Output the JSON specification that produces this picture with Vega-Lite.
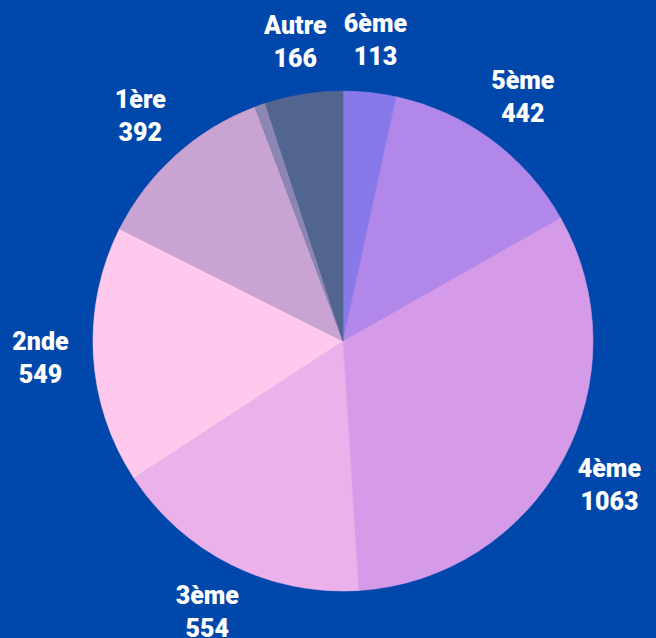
{
  "$schema": "https://vega.github.io/schema/vega-lite/v6.json",
  "autosize": {"type": "none"},
  "width": 626,
  "height": 594,
  "padding": {"left": 30, "top": 44, "right": 0, "bottom": 0},
  "background": "#0047ab",
  "config": {"view": {"stroke": null}},
  "data": {"values": [
    {"category": "6ème", "value": 113, "rank": 1},
    {"category": "5ème", "value": 442, "rank": 2},
    {"category": "4ème", "value": 1063, "rank": 3},
    {"category": "3ème", "value": 554, "rank": 4},
    {"category": "2nde", "value": 549, "rank": 5},
    {"category": "1ère", "value": 392, "rank": 6},
    {"category": "Terminale", "value": 23, "rank": 7},
    {"category": "Autre", "value": 166, "rank": 8}
  ]},
  "encoding": {
    "theta": {"field": "value", "type": "quantitative", "stack": true},
    "order": {"field": "rank", "type": "quantitative"}
  },
  "layer": [
    {
      "mark": {"type": "arc", "outerRadius": 250, "strokeWidth": 0.6},
      "encoding": {
        "color": {
          "field": "category", "type": "nominal", "legend": null,
          "scale": {
            "domain": ["6ème", "5ème", "4ème", "3ème", "2nde", "1ère", "Terminale", "Autre"],
            "range": ["#8779e9", "#b187ea", "#d59ae8", "#ebb1ea", "#ffc9ed", "#c9a3d1", "#8b86b2", "#52658f"]
          }
        },
        "stroke": {
          "field": "category", "type": "nominal", "legend": null,
          "scale": {
            "domain": ["6ème", "5ème", "4ème", "3ème", "2nde", "1ère", "Terminale", "Autre"],
            "range": ["#8779e9", "#b187ea", "#d59ae8", "#ebb1ea", "#ffc9ed", "#c9a3d1", "#8b86b2", "#52658f"]
          }
        }
      }
    },
    {
      "transform": [
        {"calculate": "datum.category + '\\n' + datum.value", "as": "label"}
      ],
      "mark": {
        "type": "text", "radius": 303, "lineBreak": "\n", "lineHeight": 33, "dy": -16,
        "font": "Roboto", "fontWeight": 900, "fontSize": 25,
        "fill": "white", "align": "center", "baseline": "middle"
      },
      "encoding": {
        "text": {"condition": {"test": "datum.category === 'Terminale'", "value": ""}, "field": "label"}
      }
    }
  ]
}
